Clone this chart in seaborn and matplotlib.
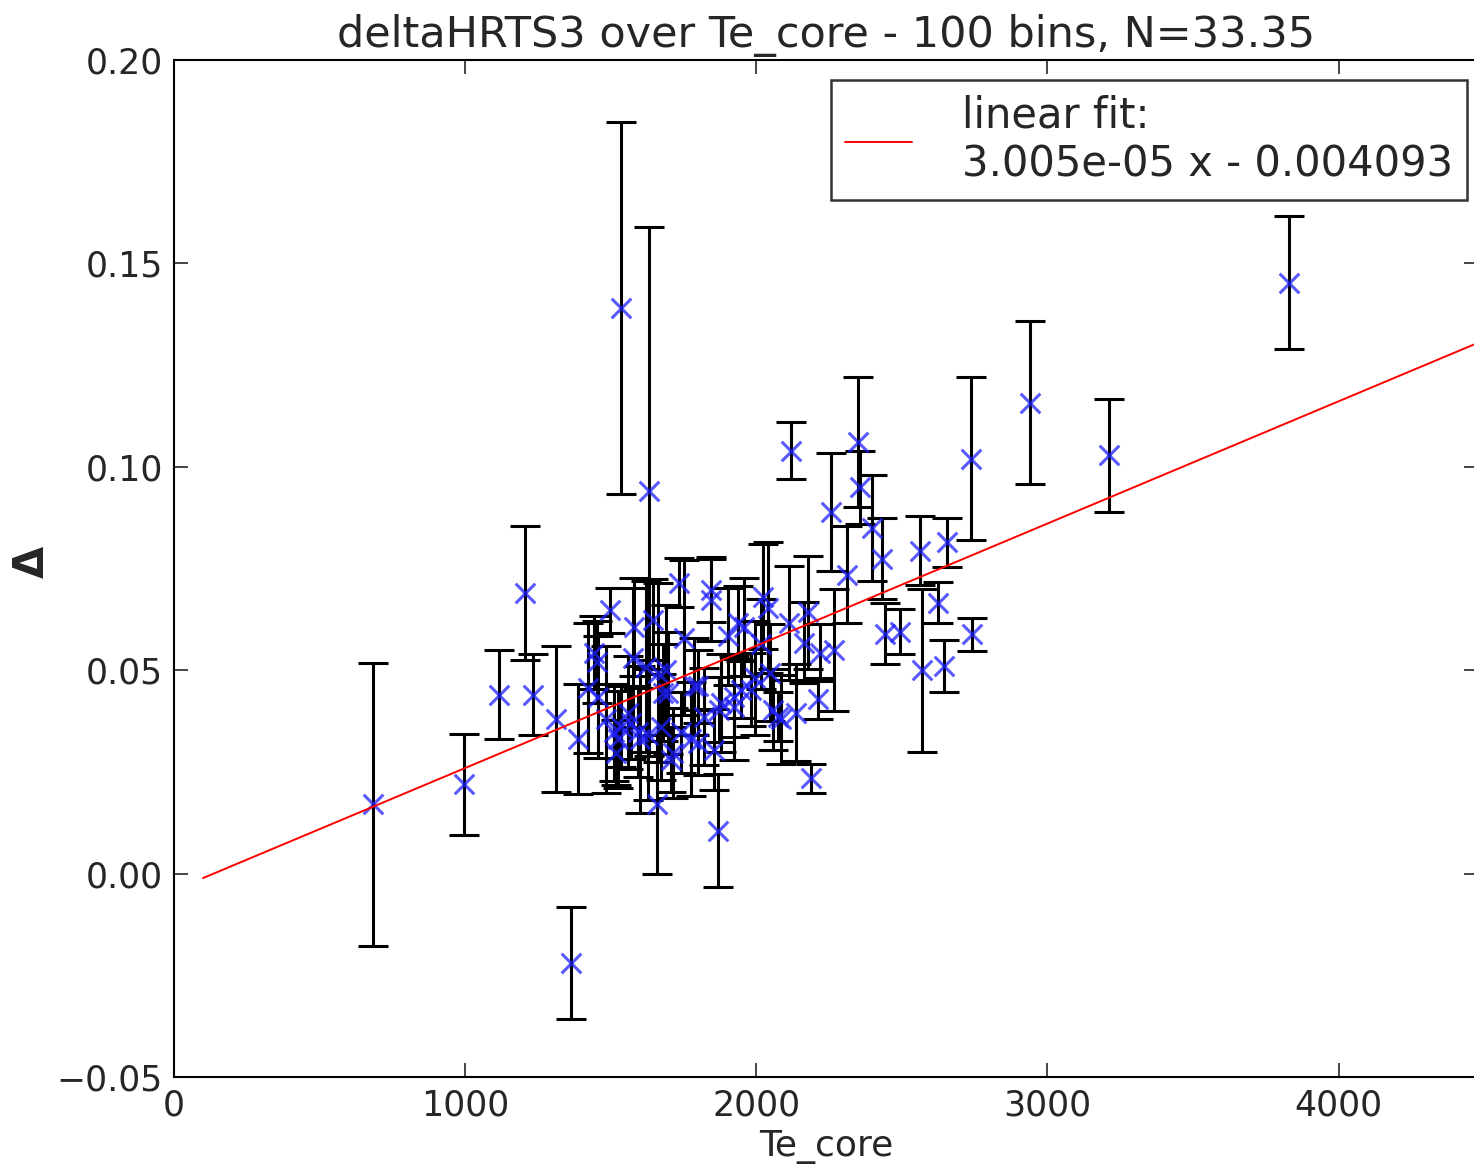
import numpy as np
import pandas as pd
import matplotlib
matplotlib.use("Agg")
import matplotlib.pyplot as plt
import seaborn as sns

# ---- data ----
te_core = [682, 995, 1115, 1205, 1232, 1312, 1363, 1387, 1497, 1535,
           1632, 1659, 1869, 2120, 2189, 2255, 2348, 2355, 2310, 2399,
           2430, 2441, 2492, 2561, 2568, 2623, 2644, 2654, 2737, 2740,
           2940, 3212, 3828,
           1422, 1442, 1456, 1484, 1511, 1535, 1559, 1518, 1525, 1580,
           1577, 1621, 1645, 1663, 1680, 1697, 1673, 1628, 1594, 1570,
           1714, 1707, 1735, 1752, 1742, 1776, 1786, 1800, 1800, 1845,
           1845, 1903, 1855, 1924, 1938, 1958, 2024, 2041, 2017, 2046,
           1872, 1821, 1924, 1948, 1983, 2058, 2076, 2086, 2138, 2113,
           2179, 2165, 2220, 2268, 2213, 1452, 1600, 1690, 1880, 1995]
delta = [0.017, 0.022, 0.044, 0.069, 0.044, 0.038, -0.022, 0.033, 0.0647, 0.139,
         0.094, 0.017, 0.0106, 0.104, 0.0234, 0.089, 0.106, 0.095, 0.0735, 0.085,
         0.0774, 0.059, 0.0595, 0.0794, 0.050, 0.0666, 0.051, 0.0814, 0.102, 0.0588,
         0.1158, 0.1028, 0.1453,
         0.0457, 0.0543, 0.0435, 0.0379, 0.0347, 0.0361, 0.0396, 0.0297, 0.0330, 0.0607,
         0.0531, 0.0509, 0.0624, 0.0494, 0.0445, 0.0445, 0.0361, 0.0342, 0.0347, 0.0371,
         0.0297, 0.0280, 0.0715, 0.0580, 0.0347, 0.0330, 0.0460, 0.0460, 0.0322, 0.0698,
         0.0673, 0.0583, 0.0305, 0.0410, 0.0617, 0.0607, 0.0681, 0.0654, 0.0565, 0.0494,
         0.0403, 0.0386, 0.0435, 0.0452, 0.0452, 0.0403, 0.0386, 0.0379, 0.0396, 0.0617,
         0.0642, 0.0568, 0.0543, 0.0550, 0.0430, 0.0520, 0.0330, 0.0500, 0.0420, 0.0480]
delta_err = [0.0348, 0.0124, 0.011, 0.0165, 0.010, 0.018, 0.0138, 0.0135, 0.0055, 0.0458,
             0.065, 0.017, 0.014, 0.0069, 0.0035, 0.0145, 0.016, 0.009, 0.012, 0.013,
             0.010, 0.0075, 0.0055, 0.0085, 0.020, 0.005, 0.0064, 0.006, 0.020, 0.004,
             0.020, 0.0139, 0.0163,
             0.016, 0.009, 0.015, 0.018, 0.012, 0.010, 0.014, 0.008, 0.012, 0.012,
             0.017, 0.021, 0.010, 0.022, 0.012, 0.015, 0.013, 0.016, 0.011, 0.009,
             0.011, 0.008, 0.006, 0.019, 0.010, 0.014, 0.012, 0.009, 0.008, 0.008,
             0.010, 0.012, 0.010, 0.013, 0.009, 0.012, 0.013, 0.016, 0.011, 0.012,
             0.008, 0.012, 0.010, 0.007, 0.009, 0.010, 0.006, 0.011, 0.012, 0.014,
             0.014, 0.010, 0.007, 0.015, 0.005, 0.010, 0.018, 0.016, 0.012, 0.014]
fit_slope = 3.005e-05
fit_intercept = -0.004093
fit_x = [100, 4500]
x_ticks = [0, 1000, 2000, 3000, 4000]
y_ticks = [-0.05, 0.00, 0.05, 0.10, 0.15, 0.20]
title = "deltaHRTS3 over Te_core - 100 bins, N=33.35"

df = pd.DataFrame({"Te_core": te_core, "delta": delta, "err": delta_err})
fit_df = pd.DataFrame({"x": fit_x, "y": [fit_slope * v + fit_intercept for v in fit_x]})

sns.set_style("white")
plt.rcParams["font.family"] = ["DejaVu Sans"]
plt.rcParams["axes.unicode_minus"] = True

fig = plt.figure(figsize=(14.74, 11.65), dpi=100)
ax = fig.add_axes([0.118, 0.0755, 0.885, 0.873])

ax.errorbar(df["Te_core"], df["delta"], yerr=df["err"], fmt="none",
            ecolor="black", elinewidth=2.2, capsize=11, capthick=2.2, zorder=2)
sns.scatterplot(data=df, x="Te_core", y="delta", marker="x", s=200,
                color="#2020ff", alpha=0.75, linewidth=2.2, ax=ax, zorder=3)
sns.lineplot(data=fit_df, x="x", y="y", color="red", linewidth=1.4, ax=ax,
             label="linear fit:\n3.005e-05 x - 0.004093", zorder=4)

ax.set_xlim(0, 4480)
ax.set_ylim(-0.05, 0.20)
ax.set_xticks(x_ticks)
ax.set_xticklabels([str(t) for t in x_ticks])
ax.set_yticks(y_ticks)
ax.set_yticklabels(["\u22120.05", "0.00", "0.05", "0.10", "0.15", "0.20"])
ax.tick_params(direction="in", length=10, width=1.2, labelsize=25,
               top=True, right=True, bottom=True, left=True, pad=8)
for s in ax.spines.values():
    s.set_linewidth(1.5)
    s.set_color("black")

ax.set_title(title, fontsize=31, pad=9)
ax.set_xlabel("Te_core", fontsize=26, labelpad=6)
ax.set_ylabel("\u0394", fontsize=30, fontweight="bold")
ax.yaxis.set_label_coords(-0.093, 0.507)

leg = ax.legend(loc="upper right", fontsize=30, frameon=True, fancybox=False,
                handlelength=1.6, handletextpad=1.2, borderpad=0.35,
                labelspacing=0.2, borderaxespad=0.0,
                bbox_to_anchor=(0.9916, 0.98))
leg.get_frame().set_edgecolor("black")
leg.get_frame().set_linewidth(1.8)

fig.savefig("out.png", dpi=100)
